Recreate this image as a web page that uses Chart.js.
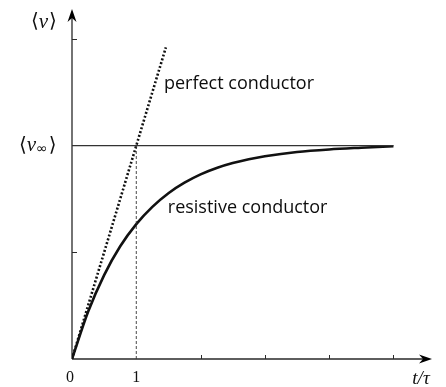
<!DOCTYPE html>
<html>
<head>
<meta charset="utf-8">
<script src="https://cdn.jsdelivr.net/npm/chart.js@4.4.1/dist/chart.umd.min.js"></script>
<style>
  html, body { margin: 0; padding: 0; background: #fff; }
  canvas { display: block; }
</style>
</head>
<body>
<canvas id="chart" width="446" height="387"></canvas>
<script>
/* ===== DATA ===== */
// time in units of tau
const tValues = [0, 0.25, 0.5, 0.75, 1, 1.25, 1.5, 1.75, 2, 2.25, 2.5, 2.75, 3, 3.5, 4, 4.5, 5];
// mean velocity of the resistive conductor, in units of v_inf
const resistiveV = [0, 0.221, 0.393, 0.528, 0.632, 0.713, 0.777, 0.826, 0.865, 0.895, 0.918, 0.936, 0.95, 0.97, 0.982, 0.99, 0.997];
// perfect conductor: straight line, no saturation
const perfectT = [0, 1.46];
const perfectV = [0, 1.46];
// terminal velocity line
const vInf = 1;
const limitT = [0, 5];
// axis ticks
const xTickLabels = ["0", "1"];
const xTickValues = [0, 1];
const xMinorTicks = [2, 3, 4, 5];
const yMinorTicks = [0.5, 1.5];

const INK = "#111";
const AXIS = "#2a2a2a";

/* ===== AXES + LABELS ===== */
function arrowHead(ctx, x, y, dir) {
  ctx.save();
  ctx.translate(x, y);
  if (dir === "up") ctx.rotate(-Math.PI / 2);
  ctx.beginPath();
  ctx.moveTo(0, 0);
  ctx.lineTo(-13, -4.5);
  ctx.lineTo(-9, 0);
  ctx.lineTo(-13, 4.5);
  ctx.closePath();
  ctx.fill();
  ctx.restore();
}

const axesPlugin = {
  id: "axes",
  beforeDatasetsDraw(chart) {
    const { ctx, scales } = chart;
    const x = scales.x, y = scales.y;
    const x0 = x.getPixelForValue(0);
    const y0 = y.getPixelForValue(0);
    const xEnd = x.getPixelForValue(x.max);
    const yEnd = y.getPixelForValue(y.max);

    ctx.save();
    ctx.strokeStyle = AXIS;
    ctx.fillStyle = "#000";
    ctx.lineWidth = 1.3;
    ctx.beginPath();
    ctx.moveTo(x0, y0);
    ctx.lineTo(xEnd - 8, y0);
    ctx.moveTo(x0, y0);
    ctx.lineTo(x0, yEnd + 8);
    ctx.stroke();
    arrowHead(ctx, xEnd, y0, "right");
    arrowHead(ctx, x0, yEnd, "up");

    ctx.lineWidth = 1;
    ctx.beginPath();
    xMinorTicks.forEach((v) => {
      const px = Math.round(x.getPixelForValue(v)) + 0.5;
      ctx.moveTo(px, y0);
      ctx.lineTo(px, y0 - 4);
    });
    yMinorTicks.forEach((v) => {
      const py = Math.round(y.getPixelForValue(v)) + 0.5;
      ctx.moveTo(x0, py);
      ctx.lineTo(x0 + 5, py);
    });
    ctx.stroke();

    // tick labels
    ctx.fillStyle = "#111";
    ctx.font = '16px "Liberation Serif", "DejaVu Serif", serif';
    ctx.textAlign = "center";
    ctx.textBaseline = "middle";
    xTickValues.forEach((v, i) => {
      ctx.fillText(xTickLabels[i], x.getPixelForValue(v) - (v === 0 ? 2 : 0), y0 + 19);
    });

    // axis titles
    ctx.font = 'italic 19px "Liberation Serif", "DejaVu Serif", serif';
    ctx.fillText("t/τ", xEnd - 11, y0 + 20);

    const angle = '20px "DejaVu Serif", serif';
    const ital = 'italic 21px "Liberation Serif", "DejaVu Serif", serif';
    // <v>
    let cx = x0 - 41, cy = yEnd + 13;
    ctx.textAlign = "left";
    ctx.font = angle; ctx.fillText("⟨", cx, cy);
    cx += ctx.measureText("⟨").width;
    ctx.font = ital; ctx.fillText("v", cx, cy);
    cx += ctx.measureText("v").width + 1;
    ctx.font = angle; ctx.fillText("⟩", cx, cy);

    // <v_inf>
    cx = x0 - 53; cy = y.getPixelForValue(vInf);
    ctx.font = angle; ctx.fillText("⟨", cx, cy);
    cx += ctx.measureText("⟨").width;
    ctx.font = ital; ctx.fillText("v", cx, cy);
    cx += ctx.measureText("v").width;
    ctx.font = '14px "DejaVu Sans", sans-serif'; ctx.fillText("∞", cx, cy + 4);
    cx += ctx.measureText("∞").width + 1;
    ctx.font = angle; ctx.fillText("⟩", cx, cy);

    // curve labels
    ctx.font = '18px "Open Sans", sans-serif';
    ctx.textBaseline = "alphabetic";
    ctx.fillStyle = "#0d0d0d";
    ctx.fillText("perfect conductor", x.getPixelForValue(1.43), y.getPixelForValue(1.265));
    ctx.fillText("resistive conductor", x.getPixelForValue(1.49), y.getPixelForValue(0.685));
    ctx.restore();
  },
};

/* ===== CHART ===== */
const toPoints = (xs, ys) => xs.map((t, i) => ({ x: t, y: ys[i] }));

new Chart(document.getElementById("chart"), {
  type: "line",
  data: {
    datasets: [
      {
        data: limitT.map((t) => ({ x: t, y: vInf })),
        borderColor: "#333",
        borderWidth: 1.2,
      },
      {
        data: [{ x: 1, y: 0 }, { x: 1, y: vInf }],
        borderColor: "#333",
        borderWidth: 0.9,
        borderDash: [3, 2],
      },
      {
        data: toPoints(perfectT, perfectV),
        borderColor: INK,
        borderWidth: 2.6,
        borderDash: [2, 2],
        borderCapStyle: "butt",
      },
      {
        data: toPoints(tValues, resistiveV),
        borderColor: INK,
        borderWidth: 2.6,
        cubicInterpolationMode: "monotone",
      },
    ],
  },
  options: {
    responsive: false,
    animation: false,
    events: [],
    layout: { padding: { left: 72, top: 9, right: 14, bottom: 28 } },
    elements: { point: { radius: 0 } },
    plugins: { legend: { display: false }, tooltip: { enabled: false } },
    scales: {
      x: { type: "linear", display: false, min: 0, max: 5.6 },
      y: { type: "linear", display: false, min: 0, max: 1.64 },
    },
  },
  plugins: [axesPlugin],
});
</script>
</body>
</html>
